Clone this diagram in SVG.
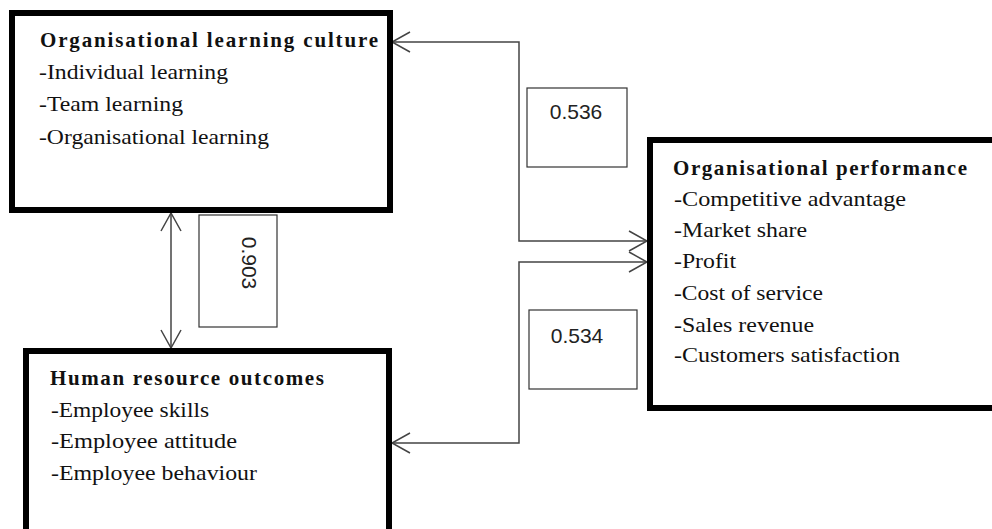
<svg xmlns="http://www.w3.org/2000/svg" width="992" height="529" viewBox="0 0 992 529">
  <style>
    .box { fill: #fff; stroke: #000; stroke-width: 6; }
    .lbl { fill: #fff; stroke: #333; stroke-width: 1.2; }
    .head { font-family: "Liberation Serif", "Times New Roman", serif; font-weight: bold; font-size: 21px; fill: #111; }
    .item { font-family: "Liberation Serif", "Times New Roman", serif; font-size: 22px; fill: #111; }
    .num { font-family: "Liberation Sans", Arial, sans-serif; font-size: 21px; fill: #222; }
    .conn { fill: none; stroke: #444; stroke-width: 1.5; marker-start: url(#arr); marker-end: url(#arr); }
  </style>
  <defs>
    <marker id="arr" markerUnits="userSpaceOnUse" markerWidth="24" markerHeight="24" viewBox="-20 -12 22 24" refX="0" refY="0" orient="auto-start-reverse" overflow="visible">
      <path d="M -18 -10 L 0 0 L -18 10" fill="none" stroke="#444" stroke-width="1.5"/>
    </marker>
  </defs>
  <rect width="992" height="529" fill="#fff"/>

  <!-- connectors -->
  <g id="connectors">
    <path class="conn" d="M 392 42 H 519 V 241 H 647"/>
    <path class="conn" d="M 647 262 H 519 V 443 H 392"/>
    <path class="conn" d="M 171 213 V 348"/>
  </g>

  <!-- coefficient labels -->
  <g id="label-536">
    <rect class="lbl" x="527" y="88" width="100" height="79"/>
    <text class="num" x="576" y="119" text-anchor="middle">0.536</text>
  </g>
  <g id="label-534">
    <rect class="lbl" x="529" y="310" width="108" height="79"/>
    <text class="num" x="577" y="343" text-anchor="middle">0.534</text>
  </g>
  <g id="label-903">
    <rect class="lbl" x="199" y="215" width="78" height="112"/>
    <text class="num" transform="translate(242 263) rotate(90)" text-anchor="middle">0.903</text>
  </g>

  <!-- nodes -->
  <g id="learning-culture">
    <rect class="box" x="12" y="13" width="378" height="197"/>
    <text class="head" x="40" y="47" textLength="338" lengthAdjust="spacing">Organisational learning culture</text>
    <text class="item" x="39" y="79" textLength="189" lengthAdjust="spacingAndGlyphs">-Individual learning</text>
    <text class="item" x="39" y="111" textLength="144" lengthAdjust="spacingAndGlyphs">-Team learning</text>
    <text class="item" x="39" y="144" textLength="230" lengthAdjust="spacingAndGlyphs">-Organisational learning</text>
  </g>

  <g id="hr-outcomes">
    <rect class="box" x="26" y="351" width="363" height="200"/>
    <text class="head" x="50" y="385" textLength="274" lengthAdjust="spacing">Human resource outcomes</text>
    <text class="item" x="51" y="417" textLength="158" lengthAdjust="spacingAndGlyphs">-Employee skills</text>
    <text class="item" x="51" y="448" textLength="186" lengthAdjust="spacingAndGlyphs">-Employee attitude</text>
    <text class="item" x="51" y="480" textLength="206" lengthAdjust="spacingAndGlyphs">-Employee behaviour</text>
  </g>

  <g id="performance">
    <rect class="box" x="650" y="140" width="360" height="268"/>
    <text class="head" x="673" y="175" textLength="294" lengthAdjust="spacing">Organisational performance</text>
    <text class="item" x="674" y="206" textLength="232" lengthAdjust="spacingAndGlyphs">-Competitive advantage</text>
    <text class="item" x="674" y="237" textLength="133" lengthAdjust="spacingAndGlyphs">-Market share</text>
    <text class="item" x="674" y="268" textLength="62" lengthAdjust="spacingAndGlyphs">-Profit</text>
    <text class="item" x="674" y="300" textLength="149" lengthAdjust="spacingAndGlyphs">-Cost of service</text>
    <text class="item" x="674" y="332" textLength="140" lengthAdjust="spacingAndGlyphs">-Sales revenue</text>
    <text class="item" x="674" y="362" textLength="226" lengthAdjust="spacingAndGlyphs">-Customers satisfaction</text>
  </g>
</svg>
